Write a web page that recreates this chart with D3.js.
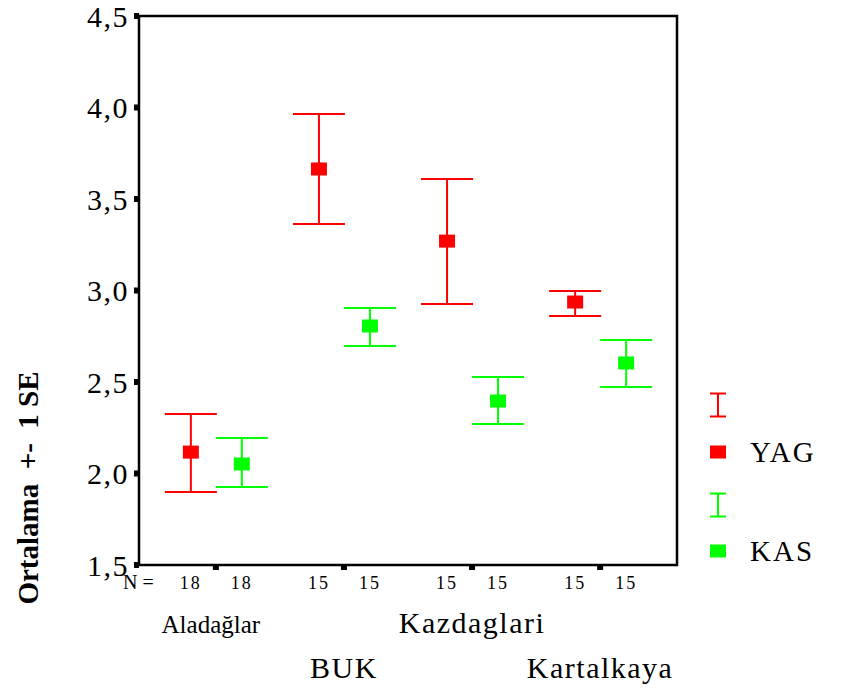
<!DOCTYPE html>
<html>
<head>
<meta charset="utf-8">
<script src="https://cdn.jsdelivr.net/npm/d3@7"></script>
<style>
  body { margin: 0; background: #fff; }
  svg text { font-family: "Liberation Serif", "Times New Roman", serif; fill: #000; }
</style>
</head>
<body>
<div id="chart"></div>
<script>
const categories = ["Aladağlar", "BUK", "Kazdaglari", "Kartalkaya"];
const series = ["YAG", "KAS"];
const colors = ["#ff0000", "#00ff00"];
const yagMean = [2.117, 3.664, 3.270, 2.937];
const yagLow = [1.899, 3.363, 2.926, 2.861];
const yagHigh = [2.325, 3.964, 3.609, 2.997];
const kasMean = [2.052, 2.806, 2.396, 2.604];
const kasLow = [1.926, 2.697, 2.270, 2.473];
const kasHigh = [2.194, 2.904, 2.527, 2.730];
const nYag = [18, 15, 15, 15];
const nKas = [18, 15, 15, 15];
const yTicks = [1.5, 2.0, 2.5, 3.0, 3.5, 4.0, 4.5];

const width = 841, height = 693;
const plot = { left: 139, right: 677, top: 16, bottom: 565 };
const serif = "Liberation Serif, Times New Roman, serif";

const svg = d3.select("#chart")
    .append("svg")
    .attr("width", width)
    .attr("height", height)
    .attr("font-family", serif);

const x = d3.scalePoint()
    .domain(categories)
    .range([plot.left, plot.right])
    .padding(0.6);

const xs = d3.scalePoint()
    .domain(series)
    .range([-25, 26]);

const y = d3.scaleLinear()
    .domain([1.5, 4.5])
    .range([plot.bottom, plot.top]);

const rows = [];
categories.forEach((c, i) => {
    rows.push({ cat: c, s: "YAG", mean: yagMean[i], lo: yagLow[i], hi: yagHigh[i], n: nYag[i] });
    rows.push({ cat: c, s: "KAS", mean: kasMean[i], lo: kasLow[i], hi: kasHigh[i], n: nKas[i] });
});
const col = s => colors[series.indexOf(s)];
const cx = d => x(d.cat) + xs(d.s);

// y axis ticks + labels
const yAxis = d3.axisLeft(y)
    .tickValues(yTicks)
    .tickSize(0)
    .tickPadding(10)
    .tickFormat(d => d3.format(".1f")(d).replace(".", ","));

const gy = svg.append("g")
    .attr("transform", `translate(${plot.left},0)`)
    .call(yAxis)
    .attr("font-family", serif)
    .attr("font-size", null);
gy.select(".domain").remove();
gy.selectAll("text")
    .style("font-size", "30px")
    .style("letter-spacing", "1.5px")
    .attr("dy", "0.34em");

svg.selectAll(".ytick")
    .data(yTicks)
    .enter()
    .append("rect")
    .attr("x", plot.left - 5)
    .attr("y", d => y(d) - 3)
    .attr("width", 5)
    .attr("height", 6)
    .attr("fill", "#000");

// x ticks below the frame
svg.selectAll(".xtick")
    .data(categories)
    .enter()
    .append("rect")
    .attr("x", d => x(d) - 3)
    .attr("y", plot.bottom)
    .attr("width", 6)
    .attr("height", 5)
    .attr("fill", "#000");

// frame
svg.append("rect")
    .attr("x", plot.left)
    .attr("y", plot.top)
    .attr("width", plot.right - plot.left)
    .attr("height", plot.bottom - plot.top)
    .attr("fill", "none")
    .attr("stroke", "#000")
    .attr("stroke-width", 2.5);

// error bars
const capW = 26;
const bars = svg.append("g").selectAll("g")
    .data(rows)
    .enter()
    .append("g")
    .attr("stroke", d => col(d.s))
    .attr("stroke-width", 2);

bars.append("line")
    .attr("x1", cx).attr("x2", cx)
    .attr("y1", d => y(d.lo)).attr("y2", d => y(d.hi));
bars.append("line")
    .attr("x1", d => cx(d) - capW).attr("x2", d => cx(d) + capW)
    .attr("y1", d => y(d.hi)).attr("y2", d => y(d.hi));
bars.append("line")
    .attr("x1", d => cx(d) - capW).attr("x2", d => cx(d) + capW)
    .attr("y1", d => y(d.lo)).attr("y2", d => y(d.lo));

svg.selectAll(".mean")
    .data(rows)
    .enter()
    .append("rect")
    .attr("x", d => cx(d) - 8)
    .attr("y", d => y(d.mean) - 6.5)
    .attr("width", 16)
    .attr("height", 13)
    .attr("fill", d => col(d.s));

// N = row
svg.append("text")
    .attr("x", 123)
    .attr("y", 589)
    .style("font-size", "20px")
    .style("white-space", "pre")
    .text("N = ");

svg.selectAll(".nlab")
    .data(rows)
    .enter()
    .append("text")
    .attr("x", cx)
    .attr("y", 589)
    .attr("text-anchor", "middle")
    .style("font-size", "18px")
    .style("letter-spacing", "2px")
    .text(d => d.n);

// category labels, staggered on two rows
svg.selectAll(".cat")
    .data(categories)
    .enter()
    .append("text")
    .attr("x", (d, i) => x(d) + (i === 0 ? -5 : 0))
    .attr("y", (d, i) => i % 2 === 0 ? 633 : 678)
    .attr("text-anchor", "middle")
    .style("font-size", (d, i) => i === 0 ? "25px" : "30px")
    .style("letter-spacing", (d, i) => i === 0 ? "0px" : "1.5px")
    .text(d => d);

// y title
svg.append("text")
    .attr("transform", "translate(38,488) rotate(-90)")
    .attr("text-anchor", "middle")
    .style("font-size", "29px")
    .style("font-weight", "bold")
    .style("white-space", "pre")
    .text("Ortalama  +-  1 SE");

// legend
const legY = [405, 452, 505, 551];
series.forEach((s, i) => {
    const g = svg.append("g").attr("stroke", colors[i]).attr("stroke-width", 2);
    const yc = legY[i * 2];
    g.append("line").attr("x1", 718).attr("x2", 718).attr("y1", yc - 11.5).attr("y2", yc + 11.5);
    g.append("line").attr("x1", 710).attr("x2", 726).attr("y1", yc - 11.5).attr("y2", yc - 11.5);
    g.append("line").attr("x1", 710).attr("x2", 726).attr("y1", yc + 11.5).attr("y2", yc + 11.5);
    svg.append("rect")
        .attr("x", 710).attr("y", legY[i * 2 + 1] - 6.5)
        .attr("width", 16).attr("height", 13)
        .attr("fill", colors[i]);
    svg.append("text")
        .attr("x", 750)
        .attr("y", legY[i * 2 + 1])
        .attr("dy", "0.35em")
        .style("font-size", "29px")
        .style("letter-spacing", "2px")
        .text(s);
});
</script>
</body>
</html>
